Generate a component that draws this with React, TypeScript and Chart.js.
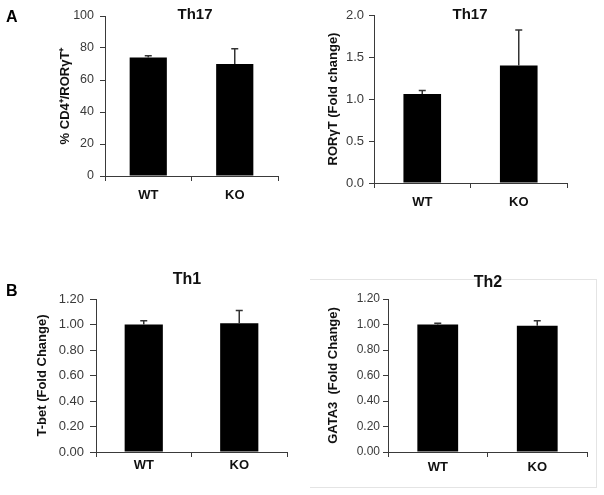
import React, { useEffect, useRef } from "react";
import { Chart, registerables } from "chart.js";

Chart.register(...registerables);

// ---- Data ----
const categories = ["WT", "KO"];

const th17PctValues = [74, 70];
const th17PctErrors = [1.2, 9.5];

const th17FoldValues = [1.06, 1.4];
const th17FoldErrors = [0.04, 0.42];

const th1Values = [1.0, 1.01];
const th1Errors = [0.03, 0.1];

const th2Values = [1.0, 0.99];
const th2Errors = [0.01, 0.04];

const FONT = "'Liberation Sans', Arial, Helvetica, sans-serif";
const AXIS = "#3a3a3a";
const TICK = "#3a3a3a";
const TEXT = "#111";

type PanelCfg = {
  left: number;
  top: number;
  width: number;
  height: number;
  padL: number;
  padT: number;
  padR: number;
  yWidth: number;
  xHeight: number;
  max: number;
  step: number;
  decimals: number;
  yTitle: string;
  yTitleSize: number;
  title: string;
  titleX: number;
  titleY: number;
  titleSize: number;
  values: number[];
  errors: number[];
  barPct: number;
  xPad: number;
  yPad: number;
  yTickSize: number;
  yTickLen: number;
};

const panels: PanelCfg[] = [
  {
    left: 0, top: 0, width: 300, height: 206,
    padL: 58, padT: 16, padR: 22, yWidth: 47, xHeight: 30,
    max: 100, step: 20, decimals: 0,
    yTitle: "% CD4\u207A/ROR\u03B3T\u207A", yTitleSize: 13,
    title: "Th17", titleX: 195, titleY: 15, titleSize: 15,
    values: th17PctValues, errors: th17PctErrors, barPct: 0.43, xPad: 7, yPad: 6,
    yTickSize: 12.5, yTickLen: 5,
  },
  {
    left: 300, top: 0, width: 304, height: 213,
    padL: 26, padT: 15, padR: 37, yWidth: 48, xHeight: 30,
    max: 2, step: 0.5, decimals: 1,
    yTitle: "ROR\u03B3T (Fold change)", yTitleSize: 13,
    title: "Th17", titleX: 170, titleY: 15, titleSize: 15,
    values: th17FoldValues, errors: th17FoldErrors, barPct: 0.39, xPad: 7, yPad: 5,
    yTickSize: 13, yTickLen: 5,
  },
  {
    left: 0, top: 260, width: 300, height: 222,
    padL: 35, padT: 39, padR: 13, yWidth: 61, xHeight: 30,
    max: 1.2, step: 0.2, decimals: 2,
    yTitle: "T-bet (Fold Change)", yTitleSize: 13,
    title: "Th1", titleX: 187, titleY: 20, titleSize: 16,
    values: th1Values, errors: th1Errors, barPct: 0.4, xPad: 1, yPad: 6,
    yTickSize: 13, yTickLen: 6,
  },
  {
    left: 300, top: 260, width: 304, height: 222,
    padL: 26, padT: 39, padR: 17, yWidth: 62, xHeight: 30,
    max: 1.2, step: 0.2, decimals: 2,
    yTitle: "GATA3  (Fold Change)", yTitleSize: 13,
    title: "Th2", titleX: 188, titleY: 23, titleSize: 16,
    values: th2Values, errors: th2Errors, barPct: 0.41, xPad: 3, yPad: 3,
    yTickSize: 12, yTickLen: 5,
  },
];

function Panel({ p }: { p: PanelCfg }) {
  const ref = useRef<HTMLCanvasElement>(null);

  useEffect(() => {
    const titlePlugin = {
      id: "panelTitle",
      afterDraw(chart: any) {
        const ctx = chart.ctx;
        ctx.save();
        ctx.font = `bold ${p.titleSize}px ${FONT}`;
        ctx.fillStyle = TEXT;
        ctx.textAlign = "center";
        ctx.textBaseline = "middle";
        ctx.fillText(p.title, p.titleX, p.titleY);
        ctx.restore();
      },
    };

    const errorPlugin = {
      id: "errorBars",
      afterDatasetsDraw(chart: any) {
        const meta = chart.getDatasetMeta(0);
        const yScale = chart.scales.y;
        const ctx = chart.ctx;
        ctx.save();
        ctx.strokeStyle = "#333";
        ctx.lineWidth = 1.5;
        meta.data.forEach((bar: any, i: number) => {
          const v = p.values[i];
          const e = p.errors[i];
          const yTop = yScale.getPixelForValue(v + e);
          ctx.beginPath();
          ctx.moveTo(bar.x, bar.y);
          ctx.lineTo(bar.x, yTop);
          ctx.moveTo(bar.x - 3.5, yTop);
          ctx.lineTo(bar.x + 3.5, yTop);
          ctx.stroke();
        });
        ctx.restore();
      },
    };

    const chart = new Chart(ref.current as HTMLCanvasElement, {
      type: "bar",
      data: {
        labels: categories,
        datasets: [
          {
            data: p.values,
            backgroundColor: "#000",
            borderWidth: 0,
            barPercentage: p.barPct,
            categoryPercentage: 1,
          },
        ],
      },
      options: {
        responsive: false,
        animation: false,
        layout: { padding: { left: p.padL, top: p.padT, right: p.padR, bottom: 0 } },
        plugins: {
          legend: { display: false },
          tooltip: { enabled: false },
          title: { display: false },
        },
        scales: {
          x: {
            grid: {
              display: true,
              drawOnChartArea: false,
              drawTicks: true,
              tickLength: 5,
              color: AXIS,
              lineWidth: 1,
              offset: true,
            },
            border: { display: true, color: AXIS, width: 1 },
            ticks: {
              color: TEXT,
              font: { family: FONT, size: 13, weight: "bold" },
              padding: p.xPad,
            },
            afterFit: (s: any) => {
              s.height = p.xHeight;
            },
          },
          y: {
            min: 0,
            max: p.max,
            ticks: {
              stepSize: p.step,
              callback: (v: any) => Number(v).toFixed(p.decimals),
              color: TICK,
              font: { family: FONT, size: p.yTickSize },
              padding: p.yPad,
            },
            grid: {
              drawOnChartArea: false,
              drawTicks: true,
              tickLength: p.yTickLen,
              color: AXIS,
              lineWidth: 1,
            },
            border: { display: true, color: AXIS, width: 1 },
            title: {
              display: true,
              text: p.yTitle,
              color: TEXT,
              font: { family: FONT, size: p.yTitleSize, weight: "bold" },
              padding: 0,
            },
            afterFit: (s: any) => {
              s.width = p.yWidth;
            },
          },
        },
      } as any,
      plugins: [titlePlugin, errorPlugin],
    });
    return () => chart.destroy();
  }, []);

  return (
    <canvas
      ref={ref}
      width={p.width}
      height={p.height}
      style={{
        position: "absolute",
        left: p.left,
        top: p.top,
        width: p.width,
        height: p.height,
      }}
    />
  );
}

export default function App() {
  return (
    <div
      style={{
        position: "absolute",
        left: 0,
        top: 0,
        width: 604,
        height: 495,
        background: "#fff",
        overflow: "hidden",
        fontFamily: FONT,
      }}
    >
      <div
        style={{
          position: "absolute",
          left: 310,
          top: 279,
          width: 286,
          height: 207,
          borderTop: "1px solid #e4e4e4",
          borderRight: "1px solid #e4e4e4",
          borderBottom: "1px solid #e4e4e4",
        }}
      />
      {panels.map((p, i) => (
        <Panel key={i} p={p} />
      ))}
      <div
        style={{
          position: "absolute",
          left: 6,
          top: 8,
          fontWeight: "bold",
          fontSize: 16,
          lineHeight: "18px",
          color: "#000",
        }}
      >
        A
      </div>
      <div
        style={{
          position: "absolute",
          left: 6,
          top: 282,
          fontWeight: "bold",
          fontSize: 16,
          lineHeight: "18px",
          color: "#000",
        }}
      >
        B
      </div>
    </div>
  );
}
